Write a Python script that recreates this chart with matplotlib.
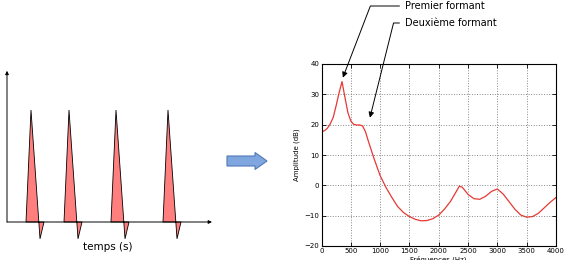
import numpy as np
import matplotlib
matplotlib.use("Agg")
import matplotlib.pyplot as plt
from matplotlib.patches import FancyArrow

# impulsions glottiques (schéma de gauche)
pulse_t0 = [19, 57, 104, 156]          # début de chaque impulsion
pulse_shape_t = [0, 5, 14, 18]         # forme d'une impulsion
pulse_shape_a = [0, 1.0, -0.15, 0]

# spectre (graphique de droite)
freq = [0, 50, 100, 150, 200, 250, 300, 350, 400, 450, 500, 550, 600, 650, 700,
        750, 800, 900, 1000, 1100, 1200, 1300, 1400, 1500, 1600, 1700, 1800,
        1900, 2000, 2100, 2200, 2300, 2350, 2400, 2500, 2600, 2700, 2800, 2900,
        3000, 3100, 3200, 3300, 3400, 3500, 3600, 3700, 3800, 3900, 4000]
amp = [17.6, 18.0, 18.8, 20.3, 22.4, 26.3, 30.5, 34.2, 29.0, 24.0, 21.2, 20.1,
       19.9, 19.9, 19.6, 17.7, 14.5, 8.6, 3.2, -0.7, -4.0, -7.0, -9.0, -10.3,
       -11.2, -11.7, -11.6, -11.0, -9.8, -7.8, -5.3, -2.0, -0.3, -0.6, -3.0,
       -4.4, -4.6, -3.6, -2.0, -1.2, -2.9, -5.4, -7.9, -9.8, -10.5, -10.3, -9.2,
       -7.4, -5.6, -4.0]
formants = [("Premier formant", 364, 35.5, 69), ("Deuxième formant", 826, 22.3, 76)]

W, H = 568, 260
fig = plt.figure(figsize=(W / 100, H / 100), dpi=100)

# --- panneau de gauche ---
axl = fig.add_axes([0, 0, 230 / W, 200 / H])
axl.set_xlim(-7, 223)
axl.set_ylim(-38 / 112, 162 / 112)
axl.axis("off")
for t0 in pulse_t0:
    axl.fill(np.array(pulse_shape_t) + t0, pulse_shape_a, facecolor="#ff7f7f",
             edgecolor="black", linewidth=0.6)
axl.annotate("", xy=(205, 0), xytext=(0, 0),
             arrowprops=dict(arrowstyle="-|>", color="black", lw=0.7,
                             mutation_scale=5, shrinkA=0, shrinkB=0))
axl.annotate("", xy=(0, 1.35), xytext=(0, 0),
             arrowprops=dict(arrowstyle="-|>", color="black", lw=0.7,
                             mutation_scale=5, shrinkA=0, shrinkB=0))
axl.text(101, -0.225, "temps (s)", ha="center", va="center", fontsize=7.5)

# --- flèche bleue ---
fig.add_artist(FancyArrow(2.27, 0.99, 0.40, 0, width=0.10, head_width=0.17,
                          head_length=0.12, length_includes_head=True,
                          facecolor="#7fa6de", edgecolor="#4f79b8", lw=0.8,
                          transform=fig.dpi_scale_trans))

# --- spectre ---
ax = fig.add_axes([321.5 / W, 1 - 246 / H, 234.5 / W, 182 / H])
ax.plot(freq, amp, color="#e53935", lw=0.9)
ax.set_xlim(0, 4000)
ax.set_ylim(-20, 40)
ax.set_xticks(range(0, 4001, 500))
ax.set_yticks(range(-20, 41, 10))
ax.grid(True, linestyle=":", color="#888888", linewidth=0.7)
ax.tick_params(direction="in", top=True, right=True, length=3, width=0.6,
               labelsize=5, pad=1.5)
for s in ax.spines.values():
    s.set_linewidth(0.8)
ax.set_ylabel("Amplitude (dB)", fontsize=5, labelpad=3)
ax.set_xlabel("Fréquences (Hz)", fontsize=5, labelpad=1)

text_y = [6, 23]
for (label, f, a, ang), ty in zip(formants, text_y):
    ax.annotate(label, xy=(f, a), xytext=(405, H - ty), textcoords="figure pixels",
                ha="left", va="center", fontsize=7,
                arrowprops=dict(arrowstyle="-|>", color="black", lw=0.7,
                                mutation_scale=8, shrinkB=0, relpos=(0, 0.5),
                                connectionstyle="angle,angleA=0,angleB=%d,rad=0" % ang))

fig.savefig("out.png", dpi=100)
